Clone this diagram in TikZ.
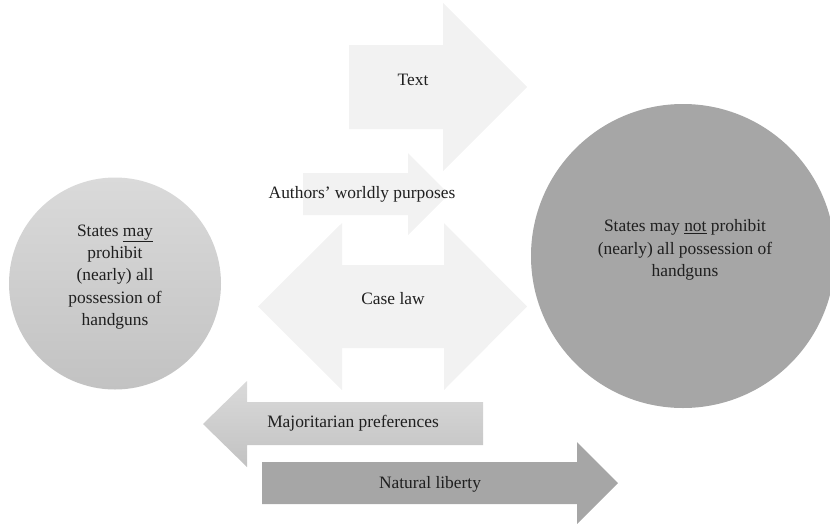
\documentclass[tikz,border=0pt]{standalone}
\usepackage{fontspec}
\setmainfont{Liberation Serif}
\usetikzlibrary{calc}
\definecolor{palegrey}{HTML}{F2F2F2}
\definecolor{midgrey}{HTML}{A6A6A6}
\definecolor{lighttop}{HTML}{DADADA}
\definecolor{lightbottom}{HTML}{C2C2C2}
\tikzset{
	pale arrow/.style={fill=palegrey, draw=none},
	dark shape/.style={fill=midgrey, draw=none},
	% top-to-bottom fade used by the left circle and the left arrow
	faded/.style={top color=lighttop, bottom color=lightbottom, draw=none},
	lbl/.style={font=\fontsize{17.4}{22.3}\selectfont, align=center, text=black!88, inner sep=0pt}
}

\begin{document}
\begin{tikzpicture}[x=1pt, y=-1pt]
	\useasboundingbox (0,0) rectangle (830,523);
	
	% Circles
	\shade[faded] (115,283.5) circle (106);
	\fill[midgrey] (683,256) circle (152);
	
	% Light arrows in the middle
	\fill[pale arrow] (349,45) -- (443,45) -- (443,3) -- (527,87) -- (443,171) -- (443,129) -- (349,129) -- cycle;
	\fill[pale arrow] (303,173) -- (408,173) -- (408,153) -- (449,194) -- (408,235) -- (408,215) -- (303,215) -- cycle;
	\fill[pale arrow] (258,306.5) -- (342,223) -- (342,265) -- (444,265) -- (444,223) -- (527,306.5)
		-- (444,390) -- (444,348) -- (342,348) -- (342,390) -- cycle;
	
	% Lower arrows
	\shade[faded] (203,424) -- (247,381) -- (247,402) -- (483,402) -- (483,445) -- (247,445) -- (247,467) -- cycle;
	\fill[dark shape] (262,462) -- (577,462) -- (577,442) -- (618,483) -- (577,524) -- (577,504) -- (262,504) -- cycle;
	
	% Labels
	\node[lbl] (text) at (413,80) {Text};
	\node[lbl] (authors) at (362,194) {Authors’ worldly purposes};
	\node[lbl] (caselaw) at (393,299) {Case law};
	\node[lbl] (majority) at (353,423) {Majoritarian preferences};
	\node[lbl] (liberty) at (430,484) {Natural liberty};
	\node[lbl] (may) at (115,277) {States \underline{may}\\prohibit\\(nearly) all\\possession of\\handguns};
	\node[lbl] (maynot) at (685,250) {States may \underline{not} prohibit\\(nearly) all possession of\\handguns};
\end{tikzpicture}
\end{document}
